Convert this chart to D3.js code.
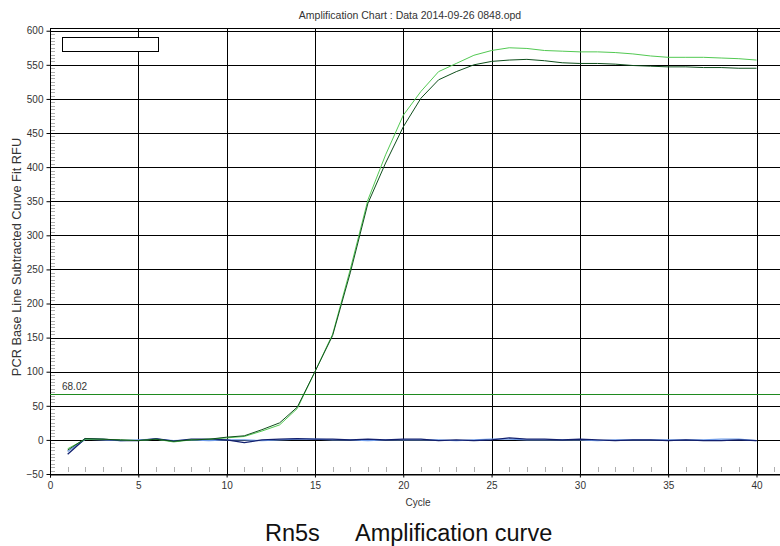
<!DOCTYPE html>
<html>
<head>
<meta charset="utf-8">
<script src="https://cdn.jsdelivr.net/npm/d3@7"></script>
<style>
  body { margin: 0; background: #fff; }
  svg { display: block; font-family: "Liberation Sans", Arial, sans-serif; }
</style>
</head>
<body>
<div id="chart"></div>
<script>
// cycles 1..40
const cycles = d3.range(1, 41);
const greenDark = [-15, 2, 1, 0, -1, 1, -2, 0, 1, 4, 6, 15, 25, 48, 100, 153, 245, 347, 406, 459,
  501, 528, 540, 550, 555, 557, 558, 556, 553, 552, 552, 551, 549, 548, 547, 547, 546, 546, 545, 545];
const greenLight = [-13, 1, 1, 0, -1, 1, -3, 0, 1, 3, 5, 13, 22, 46, 100, 155, 250, 352, 418, 476,
  511, 540, 552, 564, 571, 575, 574, 571, 570, 569, 569, 568, 566, 563, 561, 561, 561, 560, 559, 557];
const blueDark = [-21, 2, 1, -1, -1, 2, -2, 1, 1, 0, -4, 0, 1, 2, 1, 1, 0, 1, 0, 1,
  1, -1, 0, -1, 0, 3, 1, 1, 0, 1, 0, -1, 0, 0, -1, 0, -1, -1, 0, -1];
const blueLight = [-17, 1, 0, -1, 0, 1, -1, 0, -1, 0, 0, -1, 0, 1, 1, 0, 0, -1, 0, 0,
  0, 0, -1, 0, 1, 1, 0, 0, 0, 0, -1, 0, 0, 0, 0, 0, 0, 1, 1, -1];
const threshold = 68.02;
const yTicks = d3.range(-50, 601, 50);
const xTicks = d3.range(0, 41, 5);

const width = 780, height = 546;
const svg = d3.select('#chart').append('svg').attr('width', width).attr('height', height);

const x = d3.scaleLinear().domain([0, 41.5]).range([50, 783]);
const y = d3.scaleLinear().domain([-50, 604]).range([474, 28]);
const px = v => Math.round(v) + 0.5;

// grid
svg.append('g').selectAll('line').data(yTicks).join('line')
  .attr('x1', x(0)).attr('x2', width)
  .attr('y1', d => px(y(d))).attr('y2', d => px(y(d)))
  .attr('stroke', '#000');
svg.append('g').selectAll('line').data(xTicks.filter(d => d > 0)).join('line')
  .attr('x1', d => px(x(d))).attr('x2', d => px(x(d)))
  .attr('y1', y(604)).attr('y2', y(-50))
  .attr('stroke', '#000');
// top frame
svg.append('line')
  .attr('x1', x(0)).attr('x2', width).attr('y1', y(604) + 0.5).attr('y2', y(604) + 0.5)
  .attr('stroke', '#000');

// minor ticks
svg.append('g').selectAll('line').data(d3.range(-45, 604, 5).filter(d => d % 50 !== 0)).join('line')
  .attr('x1', x(0) + 1).attr('x2', x(0) + 5)
  .attr('y1', d => px(y(d))).attr('y2', d => px(y(d)))
  .attr('stroke', '#b0b0b0');
svg.append('g').selectAll('line').data(d3.range(1, 42).filter(d => d % 5 !== 0)).join('line')
  .attr('x1', d => px(x(d))).attr('x2', d => px(x(d)))
  .attr('y1', y(-50) - 2).attr('y2', y(-50) - 7)
  .attr('stroke', '#b0b0b0');

// axes
const yAxis = svg.append('g')
  .attr('transform', `translate(${x(0) + 0.5},0)`)
  .call(d3.axisLeft(y).tickValues(yTicks).tickSize(4).tickPadding(3));
const xAxis = svg.append('g')
  .attr('transform', `translate(0,${y(-50) + 0.5})`)
  .call(d3.axisBottom(x).tickValues(xTicks).tickSize(3).tickPadding(4));
[yAxis, xAxis].forEach(g => {
  g.select('.domain').attr('stroke', '#000');
  g.selectAll('.tick line').attr('stroke', '#000');
  g.selectAll('.tick text').attr('fill', '#333').style('font-size', '10px')
    .style('font-family', '"Liberation Sans", Arial, sans-serif');
});
yAxis.select('.domain').attr('d', `M0,${y(604)}V${y(-50)}`);

// threshold
svg.append('line')
  .attr('x1', x(0)).attr('x2', width)
  .attr('y1', px(y(threshold))).attr('y2', px(y(threshold)))
  .attr('stroke', '#1f8a1f').attr('stroke-width', 1);
svg.append('text')
  .attr('x', 62).attr('y', y(threshold) - 4)
  .attr('font-size', 10).attr('fill', '#333')
  .text(threshold.toFixed(2));

// curves
const line = d3.line()
  .x((d, i) => x(cycles[i]))
  .y(d => y(d));
const series = [
  {values: blueLight, color: '#6f9be8', w: 1.2},
  {values: blueDark, color: '#12206e', w: 1.3},
  {values: greenLight, color: '#52c952', w: 1},
  {values: greenDark, color: '#0f4f1c', w: 1}
];
svg.append('g').selectAll('path').data(series).join('path')
  .attr('d', d => line(d.values))
  .attr('fill', 'none')
  .attr('stroke', d => d.color)
  .attr('stroke-width', d => d.w)
  .attr('stroke-linejoin', 'round');

// empty legend box
svg.append('rect')
  .attr('x', 62.5).attr('y', 37.5).attr('width', 96).attr('height', 14)
  .attr('fill', '#fff').attr('stroke', '#000');

// titles
svg.append('text')
  .attr('x', 410).attr('y', 19).attr('text-anchor', 'middle')
  .attr('font-size', 10.5).attr('fill', '#333')
  .text('Amplification Chart : Data 2014-09-26 0848.opd');
svg.append('text')
  .attr('transform', 'translate(21,257) rotate(-90)')
  .attr('text-anchor', 'middle')
  .attr('font-size', 12.8).attr('fill', '#333')
  .text('PCR Base Line Subtracted Curve Fit RFU');
svg.append('text')
  .attr('x', 418).attr('y', 506).attr('text-anchor', 'middle')
  .attr('font-size', 10).attr('fill', '#333')
  .text('Cycle');
svg.append('text')
  .attr('x', 265).attr('y', 541)
  .attr('font-size', 23.5).attr('fill', '#111')
  .text('Rn5s');
svg.append('text')
  .attr('x', 355).attr('y', 541)
  .attr('font-size', 23.5).attr('fill', '#111')
  .text('Amplification curve');
</script>
</body>
</html>
